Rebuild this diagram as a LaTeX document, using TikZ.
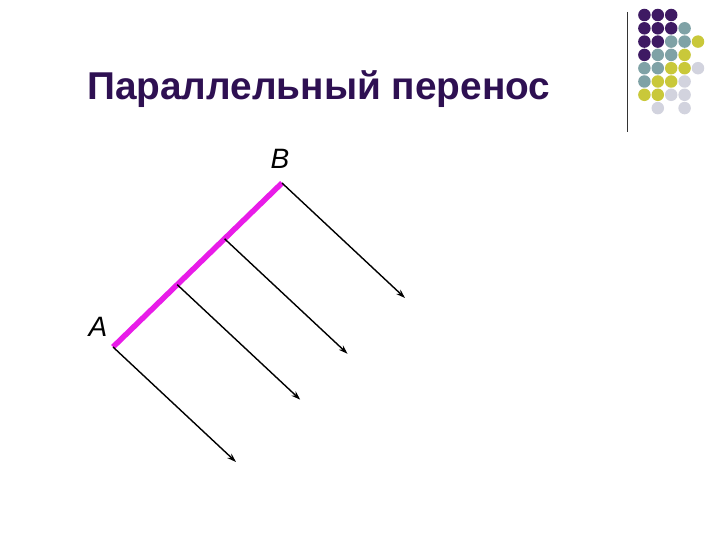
\documentclass[tikz,border=0pt]{standalone}
\usepackage{fontspec}
\setmainfont{Liberation Sans}
\usetikzlibrary{calc,arrows.meta}
\definecolor{deeppurple}{HTML}{3E1A63}
\definecolor{titlepurple}{HTML}{2E1052}
\definecolor{dotteal}{HTML}{7FA2A6}
\definecolor{dotyellow}{HTML}{C9C83A}
\definecolor{dotgray}{HTML}{D2D3DE}
\definecolor{segmagenta}{HTML}{E81CE8}
\tikzset{
	dot/.style={circle,inner sep=0pt,minimum size=12.5pt},
	vec/.style={-{Stealth[length=9pt,width=6pt]},line width=1.4pt},
	ptlabel/.style={font=\itshape\fontsize{28}{32}\selectfont},
}

\begin{document}
\begin{tikzpicture}[x=1pt,y=-1pt]
			\useasboundingbox (0,0) rectangle (720,540);
			\draw[line width=1pt,black!80] (627,12) -- (627,132);
			\foreach \c/\x/\y/\col in {
				a/1/1/deeppurple,b/2/1/deeppurple,c/3/1/deeppurple,
				d/1/2/deeppurple,e/2/2/deeppurple,f/3/2/deeppurple,g/4/2/dotteal,
				h/1/3/deeppurple,i/2/3/deeppurple,j/3/3/dotteal,k/4/3/dotteal,l/5/3/dotyellow,
				m/1/4/deeppurple,n/2/4/dotteal,o/3/4/dotteal,p/4/4/dotyellow,
				q/1/5/dotteal,r/2/5/dotteal,s/3/5/dotyellow,t/4/5/dotyellow,u/5/5/dotgray,
				v/1/6/dotteal,w/2/6/dotyellow,x/3/6/dotyellow,y/4/6/dotgray,
				z/1/7/dotyellow,aa/2/7/dotyellow,ab/3/7/dotgray,ac/4/7/dotgray,
				ad/2/8/dotgray,ae/4/8/dotgray}
				\node[dot,fill=\col] (dot-\c) at ({631+13.4*\x},{1.7+13.3*\y}) {};
			\node[anchor=base west,inner sep=0pt,text=titlepurple,font=\bfseries\fontsize{38.8}{44}\selectfont] (title) at (87,100) {Параллельный перенос};
			% segment AB and its translation
			\coordinate (A) at (113,347);
			\coordinate (B) at (282,183);
			\coordinate (P) at ($(A)!0.38!(B)$);
			\coordinate (Q) at ($(A)!0.66!(B)$);
			\foreach \s in {A,P,Q,B}
				\coordinate (\s') at ($(\s)+(123,115)$);
			\draw[segmagenta,line width=5.5pt] (A) -- (B);
			\foreach \s in {A,P,Q,B}
				\draw[vec] (\s) -- (\s');
			\node[ptlabel] (labA) at (98,327) {A};
			\node[ptlabel] (labB) at (280,159) {B};
		\end{tikzpicture}
\end{document}
